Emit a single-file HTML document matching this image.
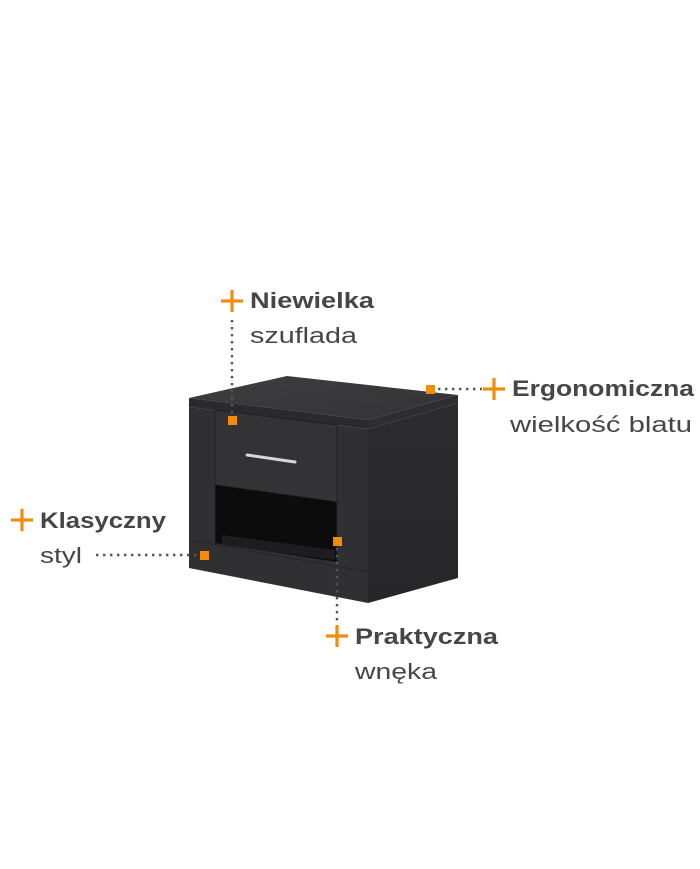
<!DOCTYPE html>
<html><head><meta charset="utf-8"><style>html,body{margin:0;padding:0;background:#fff;}svg{display:block}</style></head>
<body>
<svg width="700" height="869" viewBox="0 0 700 869" xmlns="http://www.w3.org/2000/svg">
<defs>
<linearGradient id="top" x1="0" y1="0" x2="1" y2="1"><stop offset="0" stop-color="#3e3e40"/><stop offset="1" stop-color="#333335"/></linearGradient>
<linearGradient id="side" x1="0" y1="0" x2="0" y2="1"><stop offset="0" stop-color="#2c2c2e"/><stop offset="1" stop-color="#262628"/></linearGradient>
</defs>
<!-- cabinet -->
<polygon points="189,398 287,376 458,395 368,420" fill="url(#top)"/>
<polygon points="189,398 368,420 368,429 189,407" fill="#2a2a2c"/>
<polygon points="368,420 458,395 458,403 368,429" fill="#2e2e30"/>
<polygon points="368,429 458,403 458,578 368,603" fill="url(#side)"/>
<polygon points="189,407 368,429 368,603 189,568" fill="#303032"/>
<!-- drawer -->
<polygon points="215,410 337,425 337,502 215,485" fill="#333335" stroke="#222" stroke-width="1"/>
<!-- opening -->
<polygon points="215,485 337,502 337,562 215,543" fill="#0c0c0d"/>
<polygon points="222,535 335,550 335,560 222,545" fill="#1d1d1f"/>
<line x1="189" y1="540" x2="368" y2="572" stroke="#262628" stroke-width="1"/>
<line x1="337" y1="425" x2="337" y2="566" stroke="#262628"/>
<line x1="215" y1="410" x2="215" y2="545" stroke="#262628"/>
<!-- handle -->
<line x1="247" y1="455" x2="295" y2="462" stroke="#d8d8d8" stroke-width="3" stroke-linecap="round"/>
<!-- dotted lines -->
<g stroke="#555" stroke-width="2.4" stroke-dasharray="2.4 4.6" fill="none">
<line x1="232" y1="320" x2="232" y2="414"/>
<line x1="438" y1="389" x2="482" y2="389"/>
<line x1="96" y1="555" x2="198" y2="555"/>
<line x1="337" y1="548" x2="337" y2="622"/>
</g>
<!-- orange squares -->
<g fill="#f28c0f">
<rect x="228" y="416" width="9" height="9"/>
<rect x="426" y="385" width="9" height="9"/>
<rect x="200" y="551" width="9" height="9"/>
<rect x="333" y="537" width="9" height="9"/>
</g>
<!-- plus signs -->
<g stroke="#f28c0f" stroke-width="3.2">
<line x1="221" y1="301" x2="243" y2="301"/><line x1="232" y1="290" x2="232" y2="312"/>
<line x1="483" y1="389" x2="505" y2="389"/><line x1="494" y1="378" x2="494" y2="400"/>
<line x1="11" y1="520" x2="33" y2="520"/><line x1="22" y1="509" x2="22" y2="531"/>
<line x1="326" y1="636" x2="348" y2="636"/><line x1="337" y1="625" x2="337" y2="647"/>
</g>
<g font-family="Liberation Sans, sans-serif" fill="#45464a" font-size="22">
<text x="250" y="308" font-weight="bold" textLength="124" lengthAdjust="spacingAndGlyphs">Niewielka</text>
<text x="250" y="343" textLength="107" lengthAdjust="spacingAndGlyphs">szuflada</text>
<text x="512" y="396" font-weight="bold" textLength="182" lengthAdjust="spacingAndGlyphs">Ergonomiczna</text>
<text x="510" y="432" textLength="182" lengthAdjust="spacingAndGlyphs">wielkość blatu</text>
<text x="40" y="528" font-weight="bold" textLength="126" lengthAdjust="spacingAndGlyphs">Klasyczny</text>
<text x="40" y="563" textLength="42" lengthAdjust="spacingAndGlyphs">styl</text>
<text x="355" y="644" font-weight="bold" textLength="143" lengthAdjust="spacingAndGlyphs">Praktyczna</text>
<text x="355" y="679" textLength="82" lengthAdjust="spacingAndGlyphs">wnęka</text>
</g>
</svg>
</body></html>
